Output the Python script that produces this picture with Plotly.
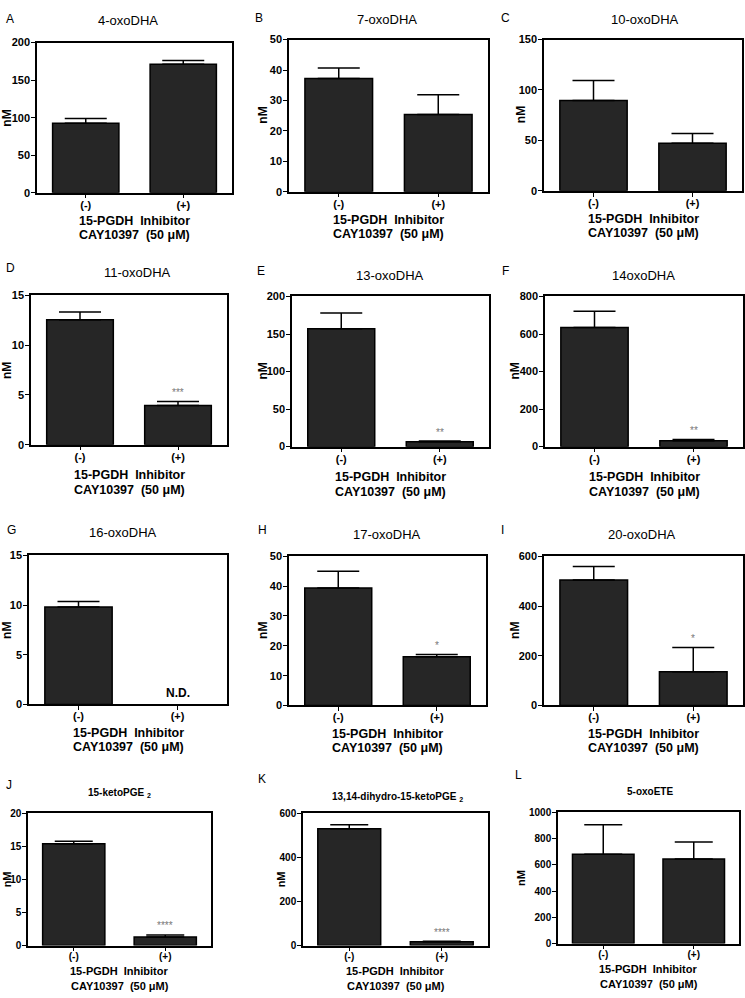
import plotly.graph_objects as go

W, H = 745, 998

# ---------------- data ----------------
categories = ["(-)", "(+)"]
panel_letters = ["A", "B", "C", "D", "E", "F", "G", "H", "I", "J", "K", "L"]
titles = ["4-oxoDHA", "7-oxoDHA", "10-oxoDHA",
          "11-oxoDHA", "13-oxoDHA", "14oxoDHA",
          "16-oxoDHA", "17-oxoDHA", "20-oxoDHA",
          "15-ketoPGE <sub>2</sub>", "13,14-dihydro-15-ketoPGE <sub>2</sub>", "5-oxoETE"]
y_max = [200, 50, 150, 15, 200, 800, 15, 50, 600, 20, 600, 1000]
y_dtick = [50, 10, 50, 5, 50, 200, 5, 10, 200, 5, 200, 200]
mean_minus = [92.5, 37.2, 89.6, 12.55, 157, 634, 9.8, 39.4, 505, 15.4, 530, 680]
sem_minus = [6.5, 3.5, 19.7, 0.8, 21, 87, 0.55, 5.6, 54, 0.35, 18, 225]
mean_plus = [171, 25.4, 47.2, 3.93, 6.5, 32, None, 16.3, 136, 1.3, 17, 644]
sem_plus = [5, 6.5, 9.6, 0.4, 1.0, 6, None, 0.8, 97, 0.3, 3, 129]
sig_labels = ["", "", "", "***", "**", "**", "N.D.", "*", "*", "****", "****", ""]
xlabel_line1 = "15-PGDH  Inhibitor"
xlabel_line2 = "CAY10397  (50 μM)"
ylabel = "nM"

# ---------------- layout (pixel boxes: left, right, top, bottom) ----------------
boxes = [(37, 232, 37, 189), (289, 488, 34, 188), (544, 742, 34, 187),
         (31, 227, 293, 444), (292, 489, 294, 446), (545, 743, 294, 446),
         (29, 227, 556, 707), (289, 486, 557, 708), (544, 743, 557, 708),
         (28, 211, 817, 951), (303, 488, 817, 951), (558, 739, 816, 949)]
letter_pos = [(4, 13), (253, 12), (499, 12), (4, 265), (255, 268), (500, 268),
              (5, 530), (256, 530), (499, 530), (4, 788), (256, 782), (513, 778)]
title_pos = [(128, 15), (387, 14), (645, 14), (137, 270), (390, 273), (643, 273),
             (123, 533), (387, 535), (642, 535), (120, 797), (397, 801), (650, 795)]
ylabel_x = [7, 263, 521, 7, 263, 515, 7, 263, 515, 7, 281, 521]
xlabel_offsets = [(29, 43), (29, 43), (29, 43), (31, 46), (31, 46), (31, 46),
                  (29, 43), (29, 43), (29, 43), (26, 41), (26, 41), (26, 41)]

FONT = "Liberation Sans, Arial, sans-serif"
BAR_FILL = "#262626"


def px(x):
    return x / W


def py(y):
    return 1 - y / H


fig = go.Figure()
annotations = []

for i in range(12):
    l, r, t, b = boxes[i]
    small = i >= 9
    ax = "" if i == 0 else str(i + 1)
    xref, yref = "x" + ax, "y" + ax

    vals = [mean_minus[i], mean_plus[i]]
    errs = [sem_minus[i], sem_plus[i]]
    fig.add_trace(go.Bar(
        x=categories, y=vals, xaxis=xref, yaxis=yref,
        marker=dict(color=BAR_FILL, line=dict(color="black", width=1.5)),
        error_y=dict(type="data", symmetric=False, array=errs,
                     arrayminus=[0, 0], color="black", thickness=1.5,
                     width=21 if not small else 19),
        showlegend=False, hoverinfo="skip"))

    tick_font = dict(family=FONT, size=10 if small else 11, color="black", weight="bold")
    fig.update_layout(**{
        "xaxis" + ax: dict(domain=[px(l), px(r)], anchor=yref, type="category",
                           categoryorder="array", categoryarray=categories,
                           range=[-0.5, 1.5], showline=True, mirror=True,
                           linecolor="black", linewidth=1.5, ticks="outside",
                           ticklen=4, tickwidth=1.2, tickcolor="black",
                           tickfont=tick_font, ticklabelstandoff=-3,
                           showgrid=False, zeroline=False, fixedrange=True),
        "yaxis" + ax: dict(domain=[py(b), py(t)], anchor=xref,
                           range=[0, y_max[i]], dtick=y_dtick[i], tick0=0,
                           showline=True, mirror=True, linecolor="black",
                           linewidth=1.5, ticks="outside", ticklen=4,
                           tickwidth=1.2, tickcolor="black", tickfont=tick_font,
                           ticklabelstandoff=-1,
                           showgrid=False, zeroline=False, fixedrange=True),
    })

    # panel letter
    lx, ly = letter_pos[i]
    annotations.append(dict(text=panel_letters[i], x=px(lx), y=py(ly),
                            xref="paper", yref="paper", xanchor="left",
                            yanchor="middle", showarrow=False,
                            font=dict(family=FONT, size=12, color="black")))
    # title
    tx, ty = title_pos[i]
    annotations.append(dict(text=titles[i], x=px(tx), y=py(ty), xref="paper",
                            yref="paper", xanchor="center", yanchor="middle",
                            showarrow=False,
                            font=dict(family=FONT, size=10 if small else 13,
                                      color="black",
                                      weight="bold" if small else "normal")))
    # y label
    annotations.append(dict(text=ylabel, x=px(ylabel_x[i]), y=py((t + b) / 2),
                            xref="paper", yref="paper", xanchor="center",
                            yanchor="middle", textangle=-90, showarrow=False,
                            font=dict(family=FONT, size=11 if small else 12,
                                      color="black", weight="bold")))
    # x label (two lines)
    cx = (l + r) / 2
    off1, off2 = xlabel_offsets[i]
    for txt, off in ((xlabel_line1, off1), (xlabel_line2, off2)):
        annotations.append(dict(text=txt, x=px(cx), y=py(b + off), xref="paper",
                                yref="paper", xanchor="center", yanchor="middle",
                                showarrow=False,
                                font=dict(family=FONT, size=11 if small else 12.5,
                                          color="black", weight="bold")))
    # significance / N.D.
    sig = sig_labels[i]
    if sig == "N.D.":
        annotations.append(dict(text=sig, x="(+)", y=0, xref=xref, yref=yref,
                                xanchor="center", yanchor="bottom", yshift=2,
                                showarrow=False,
                                font=dict(family=FONT, size=12, color="black",
                                          weight="bold")))
    elif sig:
        annotations.append(dict(text=sig, x="(+)", y=mean_plus[i] + sem_plus[i],
                                xref=xref, yref=yref, xanchor="center",
                                yanchor="middle", yshift=9, showarrow=False,
                                font=dict(family=FONT, size=10, color="#777777")))

fig.update_layout(width=W, height=H, autosize=False,
                  margin=dict(l=0, r=0, t=0, b=0),
                  paper_bgcolor="white", plot_bgcolor="white",
                  bargap=0.32, annotations=annotations,
                  font=dict(family=FONT, color="black"))

fig.write_html("out.html", config={"displayModeBar": False},
               post_script="document.body.style.margin='0';"
                           "document.body.style.overflow='hidden';")
